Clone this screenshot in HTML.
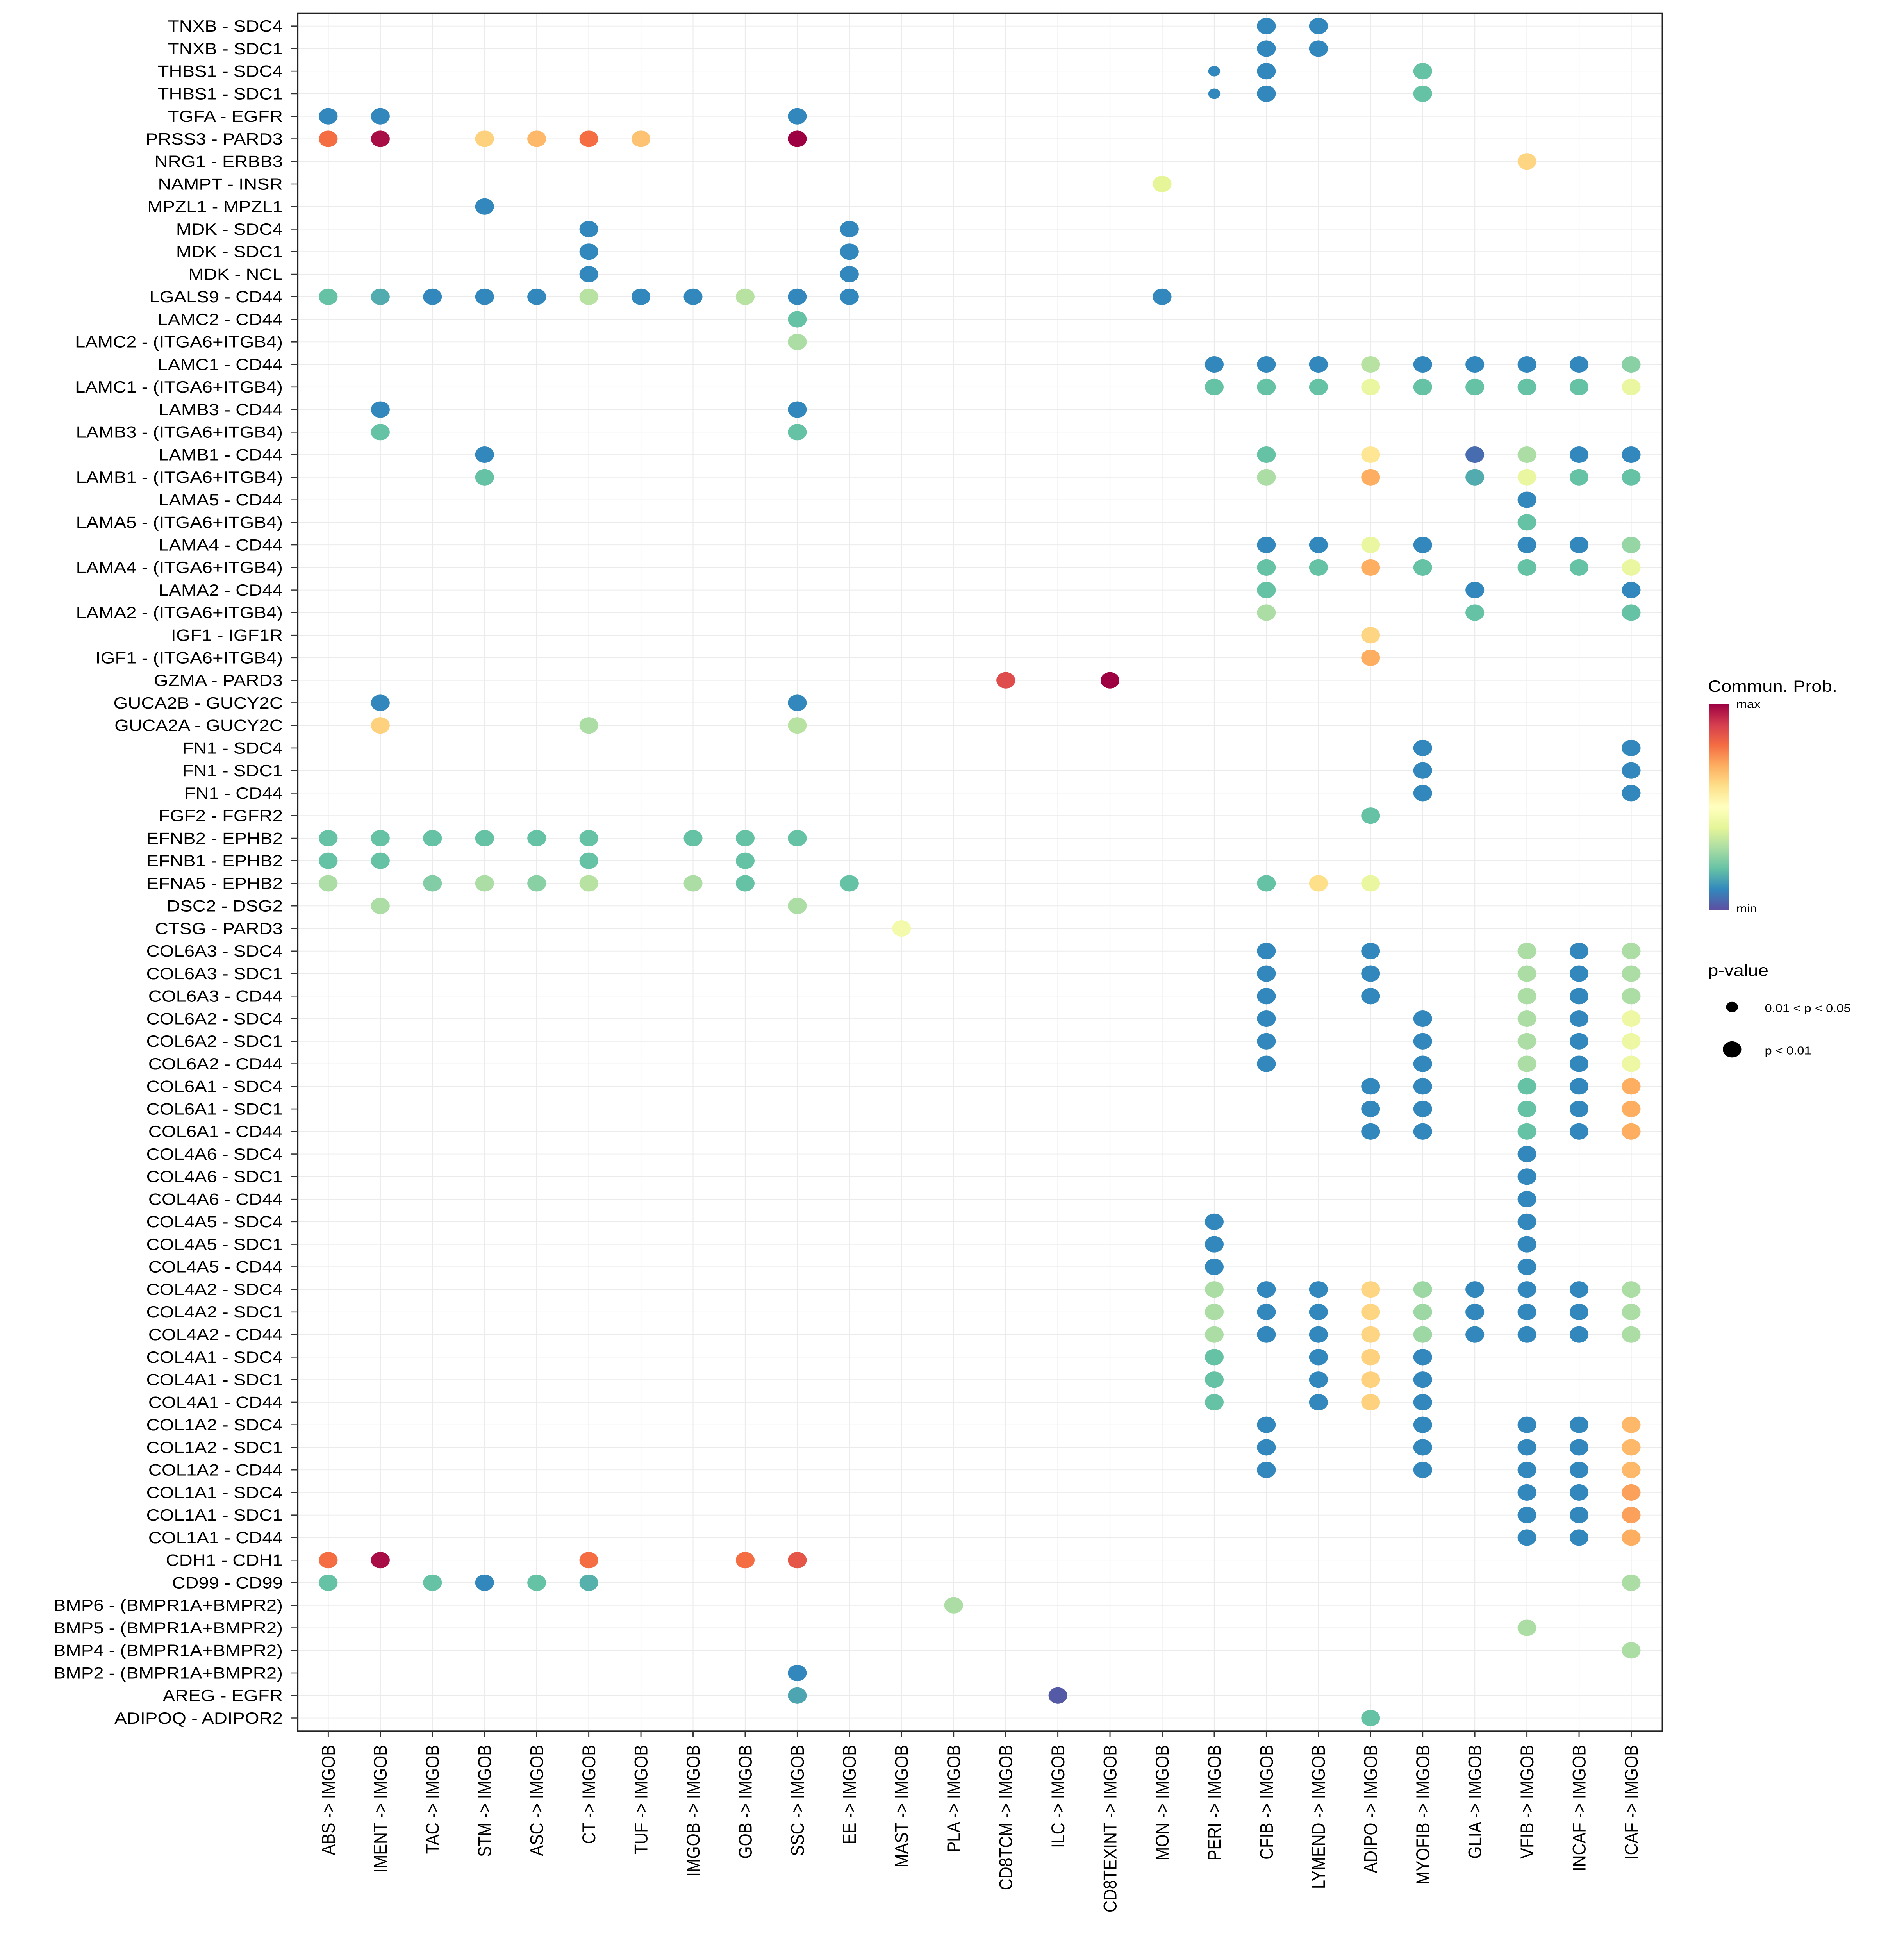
<!DOCTYPE html>
<html><head><meta charset="utf-8"><style>
html,body{margin:0;padding:0;background:#fff;width:100%;height:100%;overflow:hidden}
svg{display:block;position:fixed;left:0;top:0;width:100vw;height:100vh}
text{font-family:"Liberation Sans",Arial,sans-serif;fill:#000}
</style></head><body>
<svg id="chart" viewBox="0 0 1340 1567" preserveAspectRatio="none" xmlns="http://www.w3.org/2000/svg">
<g id="grid"></g>
<g id="dotsg"></g>
<rect x="209.5" y="10.8" width="960.5" height="1378.2" fill="none" stroke="#222" stroke-width="1.1"/>
<g id="ylab"></g>
<g id="xlab"></g>
<g id="legend">
<defs><linearGradient id="spec" x1="0" y1="1" x2="0" y2="0">
<stop offset="0" stop-color="#5E4FA2"/><stop offset="0.1" stop-color="#3288BD"/><stop offset="0.2" stop-color="#66C2A5"/><stop offset="0.3" stop-color="#ABDDA4"/><stop offset="0.4" stop-color="#E6F598"/><stop offset="0.5" stop-color="#FFFFBF"/><stop offset="0.6" stop-color="#FEE08B"/><stop offset="0.7" stop-color="#FDAE61"/><stop offset="0.8" stop-color="#F46D43"/><stop offset="0.9" stop-color="#D53E4F"/><stop offset="1" stop-color="#9E0142"/></linearGradient></defs>
<text x="1202" y="555" font-size="13">Commun. Prob.</text>
<rect x="1203" y="565" width="14" height="165" fill="url(#spec)"/>
<text x="1222" y="568" font-size="9">max</text>
<text x="1222" y="732" font-size="9">min</text>
<text x="1202" y="783" font-size="13">p-value</text>
<circle cx="1219" cy="808" r="4.2" fill="#000"/>
<text x="1242" y="812" font-size="9">0.01 &lt; p &lt; 0.05</text>
<circle cx="1219" cy="842" r="6.5" fill="#000"/>
<text x="1242" y="846" font-size="9">p &lt; 0.01</text>
</g>
</svg>
<script>
const rowLabels=["TNXB - SDC4","TNXB - SDC1","THBS1 - SDC4","THBS1 - SDC1","TGFA - EGFR","PRSS3 - PARD3","NRG1 - ERBB3","NAMPT - INSR","MPZL1 - MPZL1","MDK - SDC4","MDK - SDC1","MDK - NCL","LGALS9 - CD44","LAMC2 - CD44","LAMC2 - (ITGA6+ITGB4)","LAMC1 - CD44","LAMC1 - (ITGA6+ITGB4)","LAMB3 - CD44","LAMB3 - (ITGA6+ITGB4)","LAMB1 - CD44","LAMB1 - (ITGA6+ITGB4)","LAMA5 - CD44","LAMA5 - (ITGA6+ITGB4)","LAMA4 - CD44","LAMA4 - (ITGA6+ITGB4)","LAMA2 - CD44","LAMA2 - (ITGA6+ITGB4)","IGF1 - IGF1R","IGF1 - (ITGA6+ITGB4)","GZMA - PARD3","GUCA2B - GUCY2C","GUCA2A - GUCY2C","FN1 - SDC4","FN1 - SDC1","FN1 - CD44","FGF2 - FGFR2","EFNB2 - EPHB2","EFNB1 - EPHB2","EFNA5 - EPHB2","DSC2 - DSG2","CTSG - PARD3","COL6A3 - SDC4","COL6A3 - SDC1","COL6A3 - CD44","COL6A2 - SDC4","COL6A2 - SDC1","COL6A2 - CD44","COL6A1 - SDC4","COL6A1 - SDC1","COL6A1 - CD44","COL4A6 - SDC4","COL4A6 - SDC1","COL4A6 - CD44","COL4A5 - SDC4","COL4A5 - SDC1","COL4A5 - CD44","COL4A2 - SDC4","COL4A2 - SDC1","COL4A2 - CD44","COL4A1 - SDC4","COL4A1 - SDC1","COL4A1 - CD44","COL1A2 - SDC4","COL1A2 - SDC1","COL1A2 - CD44","COL1A1 - SDC4","COL1A1 - SDC1","COL1A1 - CD44","CDH1 - CDH1","CD99 - CD99","BMP6 - (BMPR1A+BMPR2)","BMP5 - (BMPR1A+BMPR2)","BMP4 - (BMPR1A+BMPR2)","BMP2 - (BMPR1A+BMPR2)","AREG - EGFR","ADIPOQ - ADIPOR2"];
const colLabels=["ABS -> IMGOB","IMENT -> IMGOB","TAC -> IMGOB","STM -> IMGOB","ASC -> IMGOB","CT -> IMGOB","TUF -> IMGOB","IMGOB -> IMGOB","GOB -> IMGOB","SSC -> IMGOB","EE -> IMGOB","MAST -> IMGOB","PLA -> IMGOB","CD8TCM -> IMGOB","ILC -> IMGOB","CD8TEXINT -> IMGOB","MON -> IMGOB","PERI -> IMGOB","CFIB -> IMGOB","LYMEND -> IMGOB","ADIPO -> IMGOB","MYOFIB -> IMGOB","GLIA -> IMGOB","VFIB -> IMGOB","INCAF -> IMGOB","ICAF -> IMGOB"];
// [row (1-based from top), column index, probability (0..1), significance (1 = p<0.01, 0 = 0.01<p<0.05)]
const dots=[
[1,18,.1,1],[1,19,.1,1],[2,18,.1,1],[2,19,.1,1],
[3,17,.1,0],[3,18,.1,1],[3,21,.2,1],[4,17,.1,0],[4,18,.1,1],[4,21,.2,1],
[5,0,.1,1],[5,1,.1,1],[5,9,.1,1],
[6,0,.8,1],[6,1,.98,1],[6,3,.63,1],[6,4,.68,1],[6,5,.8,1],[6,6,.66,1],[6,9,1,1],
[7,23,.62,1],[8,16,.4,1],[9,3,.1,1],
[10,5,.1,1],[10,10,.1,1],[11,5,.1,1],[11,10,.1,1],[12,5,.1,1],[12,10,.1,1],
[13,0,.2,1],[13,1,.16,1],[13,2,.1,1],[13,3,.1,1],[13,4,.1,1],[13,5,.32,1],[13,6,.1,1],[13,7,.1,1],[13,8,.32,1],[13,9,.1,1],[13,10,.1,1],[13,16,.1,1],
[14,9,.2,1],[15,9,.3,1],
[16,17,.1,1],[16,18,.1,1],[16,19,.1,1],[16,20,.32,1],[16,21,.1,1],[16,22,.1,1],[16,23,.1,1],[16,24,.1,1],[16,25,.25,1],
[17,17,.2,1],[17,18,.2,1],[17,19,.2,1],[17,20,.42,1],[17,21,.2,1],[17,22,.2,1],[17,23,.2,1],[17,24,.2,1],[17,25,.42,1],
[18,1,.1,1],[18,9,.1,1],[19,1,.2,1],[19,9,.2,1],
[20,3,.1,1],[20,18,.2,1],[20,20,.58,1],[20,22,.05,1],[20,23,.3,1],[20,24,.1,1],[20,25,.1,1],
[21,3,.2,1],[21,18,.3,1],[21,20,.7,1],[21,22,.16,1],[21,23,.42,1],[21,24,.2,1],[21,25,.2,1],
[22,23,.1,1],[23,23,.2,1],
[24,18,.1,1],[24,19,.1,1],[24,20,.42,1],[24,21,.1,1],[24,23,.1,1],[24,24,.1,1],[24,25,.27,1],
[25,18,.2,1],[25,19,.2,1],[25,20,.7,1],[25,21,.2,1],[25,23,.2,1],[25,24,.2,1],[25,25,.42,1],
[26,18,.2,1],[26,22,.1,1],[26,25,.1,1],[27,18,.3,1],[27,22,.2,1],[27,25,.2,1],
[28,20,.62,1],[29,20,.7,1],
[30,13,.87,1],[30,15,1,1],
[31,1,.1,1],[31,9,.1,1],[32,1,.63,1],[32,5,.3,1],[32,9,.32,1],
[33,21,.1,1],[33,25,.1,1],[34,21,.1,1],[34,25,.1,1],[35,21,.1,1],[35,25,.1,1],
[36,20,.2,1],
[37,0,.2,1],[37,1,.2,1],[37,2,.2,1],[37,3,.2,1],[37,4,.2,1],[37,5,.2,1],[37,7,.2,1],[37,8,.2,1],[37,9,.2,1],
[38,0,.2,1],[38,1,.2,1],[38,5,.2,1],[38,8,.2,1],
[39,0,.3,1],[39,2,.24,1],[39,3,.3,1],[39,4,.25,1],[39,5,.32,1],[39,7,.3,1],[39,8,.2,1],[39,10,.2,1],[39,18,.2,1],[39,19,.6,1],[39,20,.42,1],
[40,1,.3,1],[40,9,.3,1],[41,11,.45,1],
[42,18,.1,1],[42,20,.1,1],[42,23,.3,1],[42,24,.1,1],[42,25,.3,1],
[43,18,.1,1],[43,20,.1,1],[43,23,.3,1],[43,24,.1,1],[43,25,.3,1],
[44,18,.1,1],[44,20,.1,1],[44,23,.3,1],[44,24,.1,1],[44,25,.3,1],
[45,18,.1,1],[45,21,.1,1],[45,23,.3,1],[45,24,.1,1],[45,25,.43,1],
[46,18,.1,1],[46,21,.1,1],[46,23,.3,1],[46,24,.1,1],[46,25,.43,1],
[47,18,.1,1],[47,21,.1,1],[47,23,.3,1],[47,24,.1,1],[47,25,.43,1],
[48,20,.1,1],[48,21,.1,1],[48,23,.2,1],[48,24,.1,1],[48,25,.7,1],
[49,20,.1,1],[49,21,.1,1],[49,23,.2,1],[49,24,.1,1],[49,25,.7,1],
[50,20,.1,1],[50,21,.1,1],[50,23,.2,1],[50,24,.1,1],[50,25,.7,1],
[51,23,.1,1],[52,23,.1,1],[53,23,.1,1],
[54,17,.1,1],[54,23,.1,1],[55,17,.1,1],[55,23,.1,1],[56,17,.1,1],[56,23,.1,1],
[57,17,.3,1],[57,18,.1,1],[57,19,.1,1],[57,20,.62,1],[57,21,.28,1],[57,22,.1,1],[57,23,.1,1],[57,24,.1,1],[57,25,.3,1],
[58,17,.3,1],[58,18,.1,1],[58,19,.1,1],[58,20,.62,1],[58,21,.28,1],[58,22,.1,1],[58,23,.1,1],[58,24,.1,1],[58,25,.3,1],
[59,17,.3,1],[59,18,.1,1],[59,19,.1,1],[59,20,.62,1],[59,21,.28,1],[59,22,.1,1],[59,23,.1,1],[59,24,.1,1],[59,25,.3,1],
[60,17,.2,1],[60,19,.1,1],[60,20,.63,1],[60,21,.1,1],
[61,17,.2,1],[61,19,.1,1],[61,20,.63,1],[61,21,.1,1],
[62,17,.2,1],[62,19,.1,1],[62,20,.63,1],[62,21,.1,1],
[63,18,.1,1],[63,21,.1,1],[63,23,.1,1],[63,24,.1,1],[63,25,.68,1],
[64,18,.1,1],[64,21,.1,1],[64,23,.1,1],[64,24,.1,1],[64,25,.68,1],
[65,18,.1,1],[65,21,.1,1],[65,23,.1,1],[65,24,.1,1],[65,25,.68,1],
[66,23,.1,1],[66,24,.1,1],[66,25,.72,1],[67,23,.1,1],[67,24,.1,1],[67,25,.72,1],[68,23,.1,1],[68,24,.1,1],[68,25,.7,1],
[69,0,.8,1],[69,1,.98,1],[69,5,.8,1],[69,8,.8,1],[69,9,.85,1],
[70,0,.2,1],[70,2,.2,1],[70,3,.1,1],[70,4,.2,1],[70,5,.17,1],[70,25,.3,1],
[71,12,.3,1],[72,23,.3,1],[73,25,.3,1],[74,9,.1,1],
[75,9,.15,1],[75,14,.02,1],[76,20,.2,1]
];
const NS="http://www.w3.org/2000/svg";
const X0=231,DX=(1148-231)/25,Y0=20.9,DY=(1378.5-20.9)/75;
function xs(c){return X0+c*DX;}
function ys(r){return Y0+(r-1)*DY;}
const stops=[[94,79,162],[50,136,189],[102,194,165],[171,221,164],[230,245,152],[255,255,191],[254,224,139],[253,174,97],[244,109,67],[213,62,79],[158,1,66]];
function col(p){p=Math.max(0,Math.min(1,p))*10;const i=Math.min(9,Math.floor(p)),f=p-i;const a=stops[i],b=stops[i+1];return `rgb(${a.map((v,k)=>Math.round(v+(b[k]-v)*f)).join(',')})`;}
function mk(t,at,parent){const e=document.createElementNS(NS,t);for(const k in at)e.setAttribute(k,at[k]);parent.appendChild(e);return e;}
const grid=document.getElementById('grid'),dg=document.getElementById('dotsg'),yl=document.getElementById('ylab'),xl=document.getElementById('xlab');
rowLabels.forEach((lab,i)=>{const y=ys(i+1);
const l=mk('line',{x1:209.5,x2:1170,y1:y,y2:y,stroke:'#EBEBEB','stroke-width':0.6},grid);


const tk=mk('line',{x1:204.5,x2:209.5,y1:y,y2:y,stroke:'#333','stroke-width':0.8},yl);


const t=mk('text',{x:199,y:y+4.5,'text-anchor':'end','font-size':13},yl);t.textContent=lab;

});
colLabels.forEach((lab,i)=>{const x=xs(i);
const l=mk('line',{x1:x,x2:x,y1:10.8,y2:1389,stroke:'#EBEBEB','stroke-width':0.6},grid);


const tk=mk('line',{x1:x,x2:x,y1:1389,y2:1394,stroke:'#333','stroke-width':0.8},xl);


const t=mk('text',{x:0,y:0,'text-anchor':'end','font-size':13,transform:`translate(${x+4.5},1400) rotate(-90)`},xl);t.textContent=lab;

});
dots.forEach(d=>{const c=mk('circle',{cx:xs(d[1]),cy:ys(d[0]),r:d[3]?6.6:4.2,fill:col(d[2])},dg);

});
</script>
</body></html>
